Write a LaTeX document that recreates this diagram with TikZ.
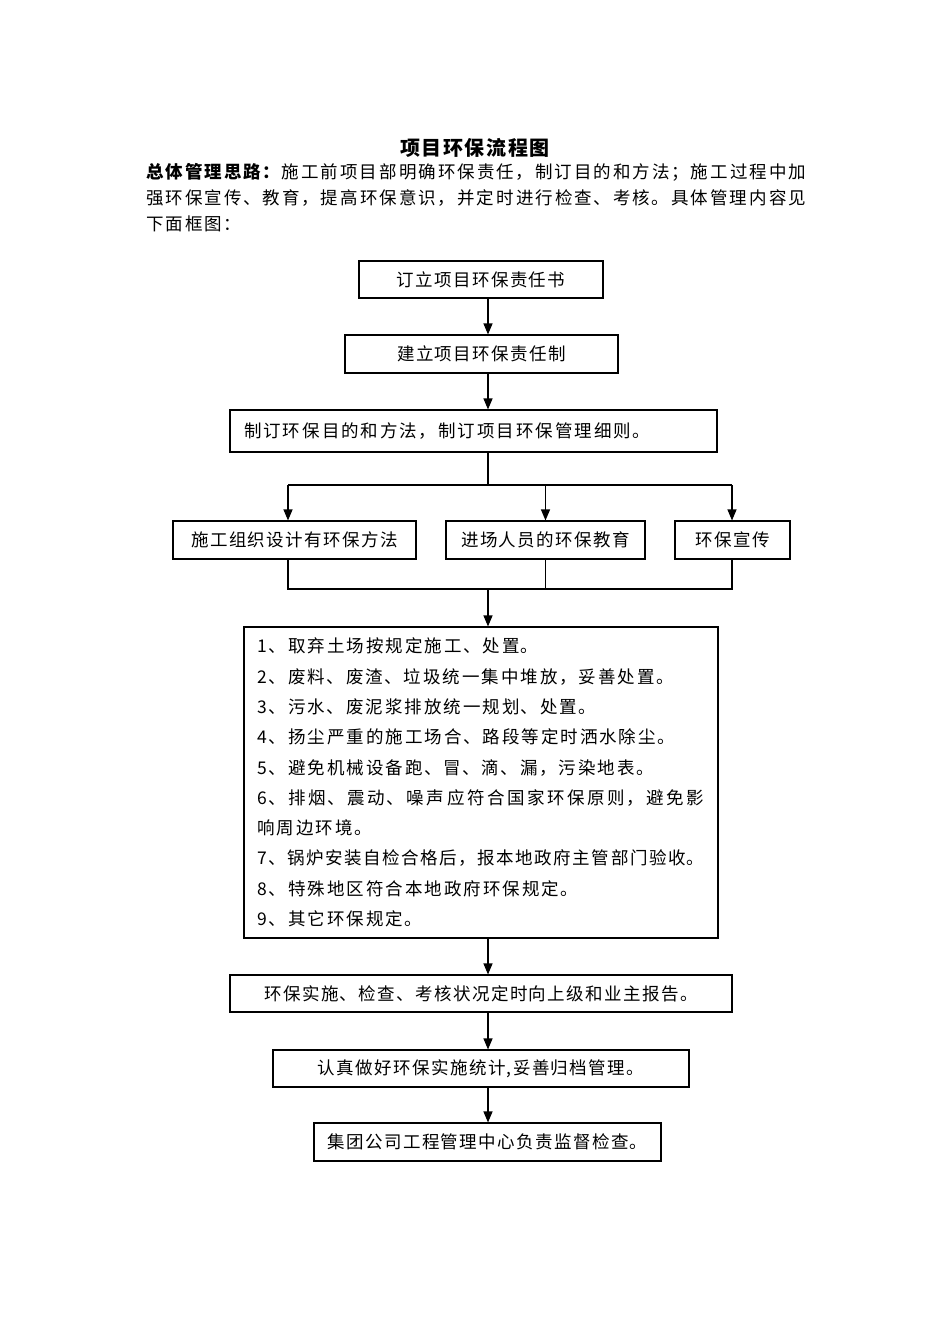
\documentclass[tikz,border=0pt]{standalone}
\usepackage{fontspec}
\setmainfont[LetterSpace=8]{Noto Sans CJK SC}
\usetikzlibrary{arrows.meta}
\XeTeXlinebreaklocale "zh"
\XeTeXlinebreakskip=2pt plus 1pt minus 1pt
\newcommand\boxfont{\fontsize{17.5}{30.3}\selectfont}
\newcommand\parafont{\fontsize{17.5}{25.8}\selectfont}
\newcommand\titlefont{\fontsize{20}{24}\selectfont\bfseries}
\begin{document}
\begin{tikzpicture}[x=1pt,y=-1pt,
    box/.style={draw,line width=1.1pt,inner sep=0pt,minimum height=37pt,font=\boxfont},
    arr/.style={-{Triangle[length=11pt,width=9pt]},line width=1.1pt},
    line/.style={line width=1.1pt}]
    \useasboundingbox (0,0) rectangle (950,1344);
    % title and introduction
    \node[font=\titlefont] (title) at (475,148) {项目环保流程图};
    \node[anchor=north west,inner sep=0pt,text width=660pt,align=justify,font=\parafont] (intro) at (146,163.5) {%
        \textbf{总体管理思路：}施工前项目部明确环保责任，制订目的和方法；施工过程中加\linebreak
        强环保宣传、教育，提高环保意识，并定时进行检查、考核。具体管理内容见\linebreak
        下面框图：};
    % boxes
    \node[box,minimum width=244pt] (b1) at (481,279.5) {订立项目环保责任书};
    \node[box,minimum width=273pt,minimum height=38pt] (b2) at (481.5,354) {建立项目环保责任制};
    \node[box,text width=459pt,inner xsep=14pt,minimum height=42pt,align=left] (b3) at (473.5,431) {制订环保目的和方法，制订项目环保管理细则。};
    \node[box,minimum width=243pt,minimum height=38pt] (b4a) at (294.5,540) {施工组织设计有环保方法};
    \node[box,minimum width=199pt,minimum height=38pt] (b4b) at (545.5,540) {进场人员的环保教育};
    \node[box,minimum width=115pt,minimum height=38pt] (b4c) at (732.5,540) {环保宣传};
    \node[box,text width=447pt,inner xsep=13.5pt,minimum height=311pt,align=justify] (b5) at (481,782.5) {%
        1、取弃土场按规定施工、处置。\\
        2、废料、废渣、垃圾统一集中堆放，妥善处置。\\
        3、污水、废泥浆排放统一规划、处置。\\
        4、扬尘严重的施工场合、路段等定时洒水除尘。\\
        5、避免机械设备跑、冒、滴、漏，污染地表。\\
        6、排烟、震动、噪声应符合国家环保原则，避免影\linebreak
        响周边环境。\\
        7、锅炉安装自检合格后，报本地政府主管部门验收。\\
        8、特殊地区符合本地政府环保规定。\\
        9、其它环保规定。};
    \node[box,minimum width=502pt] (b6) at (481,993.5) {环保实施、检查、考核状况定时向上级和业主报告。};
    \node[box,minimum width=416pt] (b7) at (481,1068.5) {认真做好环保实施统计,妥善归档管理。};
    \node[box,minimum width=347pt,minimum height=38pt] (b8) at (487.5,1142) {集团公司工程管理中心负责监督检查。};
    % connectors
    \coordinate (sp) at (488,0);
    \coordinate (split) at (488,485);
    \coordinate (splitL) at (288,485);
    \coordinate (splitR) at (732,485);
    \coordinate (join) at (488,589);
    \draw[arr] (b1.south -| sp) -- (b2.north -| sp);
    \draw[arr] (b2.south -| sp) -- (b3.north -| sp);
    \draw[line] (b3.south -| sp) -- (split);
    \draw[line] (splitL) -- (splitR);
    \draw[arr] (splitL) -- (b4a.north -| splitL);
    \draw[arr] (split -| b4b) -- (b4b.north);
    \draw[arr] (splitR) -- (b4c.north -| splitR);
    \draw[line] (b4a.south -| splitL) |- (join -| splitR) -- (b4c.south -| splitR);
    \draw[line] (b4b.south) -- (join -| b4b);
    \draw[arr] (join) -- (b5.north -| sp);
    \draw[arr] (b5.south -| sp) -- (b6.north -| sp);
    \draw[arr] (b6.south -| sp) -- (b7.north -| sp);
    \draw[arr] (b7.south -| sp) -- (b8.north -| sp);
\end{tikzpicture}
\end{document}
